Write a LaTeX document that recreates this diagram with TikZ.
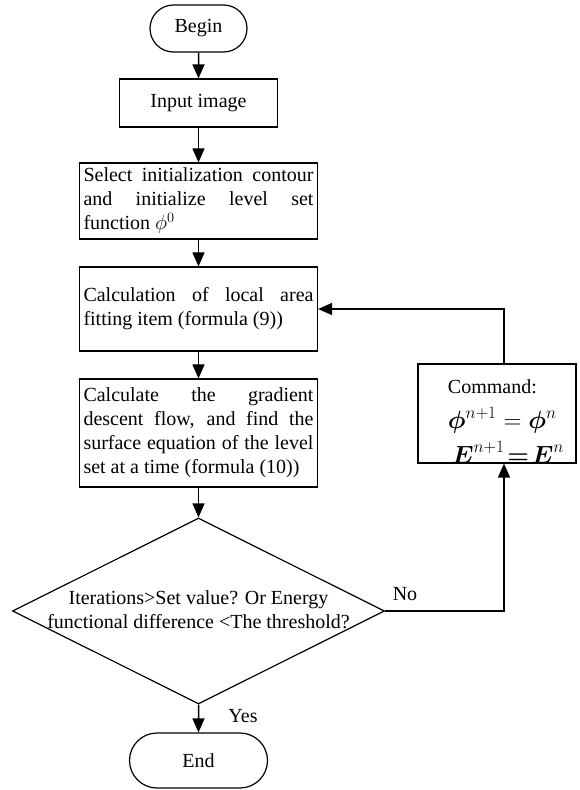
\documentclass[tikz,border=0pt]{standalone}
\usepackage{amsmath}
\usepackage{fontspec}
\setmainfont{Liberation Serif}
\usetikzlibrary{arrows.meta,shapes.geometric,shapes.misc}
\tolerance=9999
\hyphenpenalty=10000

\begin{document}
\begin{tikzpicture}[x=1pt,y=-1pt,
		font=\fontsize{20}{24}\selectfont,
		terminal/.style={draw, line width=1.2pt, rounded rectangle, inner sep=0pt},
		process/.style={draw, line width=1.2pt, text width=230pt, inner sep=4pt, align=justify},
		decision/.style={draw, line width=1.2pt, diamond, inner sep=0pt},
		flow/.style={line width=1.5pt, -{Triangle[width=12pt,length=14pt]}}]
		\useasboundingbox (0,0) rectangle (579,790);

		%main column
		\node[terminal, minimum width=97pt, minimum height=47pt] (begin) at (198.5,28.5) {Begin};
		\node[draw, line width=1.2pt, minimum width=158pt, minimum height=48pt] (input) at (198.5,103) {Input image};
		\node[process, minimum height=76pt] (select) at (198.5,201) {Select initialization contour\linebreak and initialize level set\linebreak function $\phi^0$};
		\node[process, minimum height=84pt] (calc) at (198.5,309) {Calculation of local area\linebreak fitting item (formula (9))};
		\node[process, minimum height=108pt] (grad) at (198.5,433) {Calculate the gradient\linebreak descent flow, and find the\linebreak surface equation of the level\linebreak set at a time (formula (10))};
		\node[decision, minimum width=372pt, minimum height=186pt,
			label={[align=center, yshift=1pt]center:Iterations>Set value? Or Energy\\functional difference <The threshold?}] (check) at (198.5,611) {};
		\node[terminal, minimum width=138pt, minimum height=55pt] (finish) at (198.5,760.5) {End};

		\foreach \a/\b in {begin/input,input/select,select/calc,calc/grad,grad/check,check/finish}{
			\draw[flow] (\a) -- (\b);
		}

		%loop back
		\node[draw, line width=1.2pt, minimum width=158pt, minimum height=99pt,
			label={[align=left, xshift=9pt, yshift=-8pt]center:Command:\\[11pt]
				{\fontsize{25}{30}\selectfont$\boldsymbol{\phi}^{n+1} = \boldsymbol{\phi}^{n}$}\\[7pt]
				{\fontsize{25}{30}\selectfont$\,\boldsymbol{E}^{n+1}\!\boldsymbol{=}\!\boldsymbol{E}^{n}$}}] (command) at (497,413.5) {};

		\draw[flow] (check.east) -| ([xshift=7pt]command.south);
		\draw[flow] ([xshift=7pt]command.north) |- (calc.east);

		\node (yes) at (243,716) {Yes};
		\node (no) at (405,594) {No};

	\end{tikzpicture}
\end{document}
